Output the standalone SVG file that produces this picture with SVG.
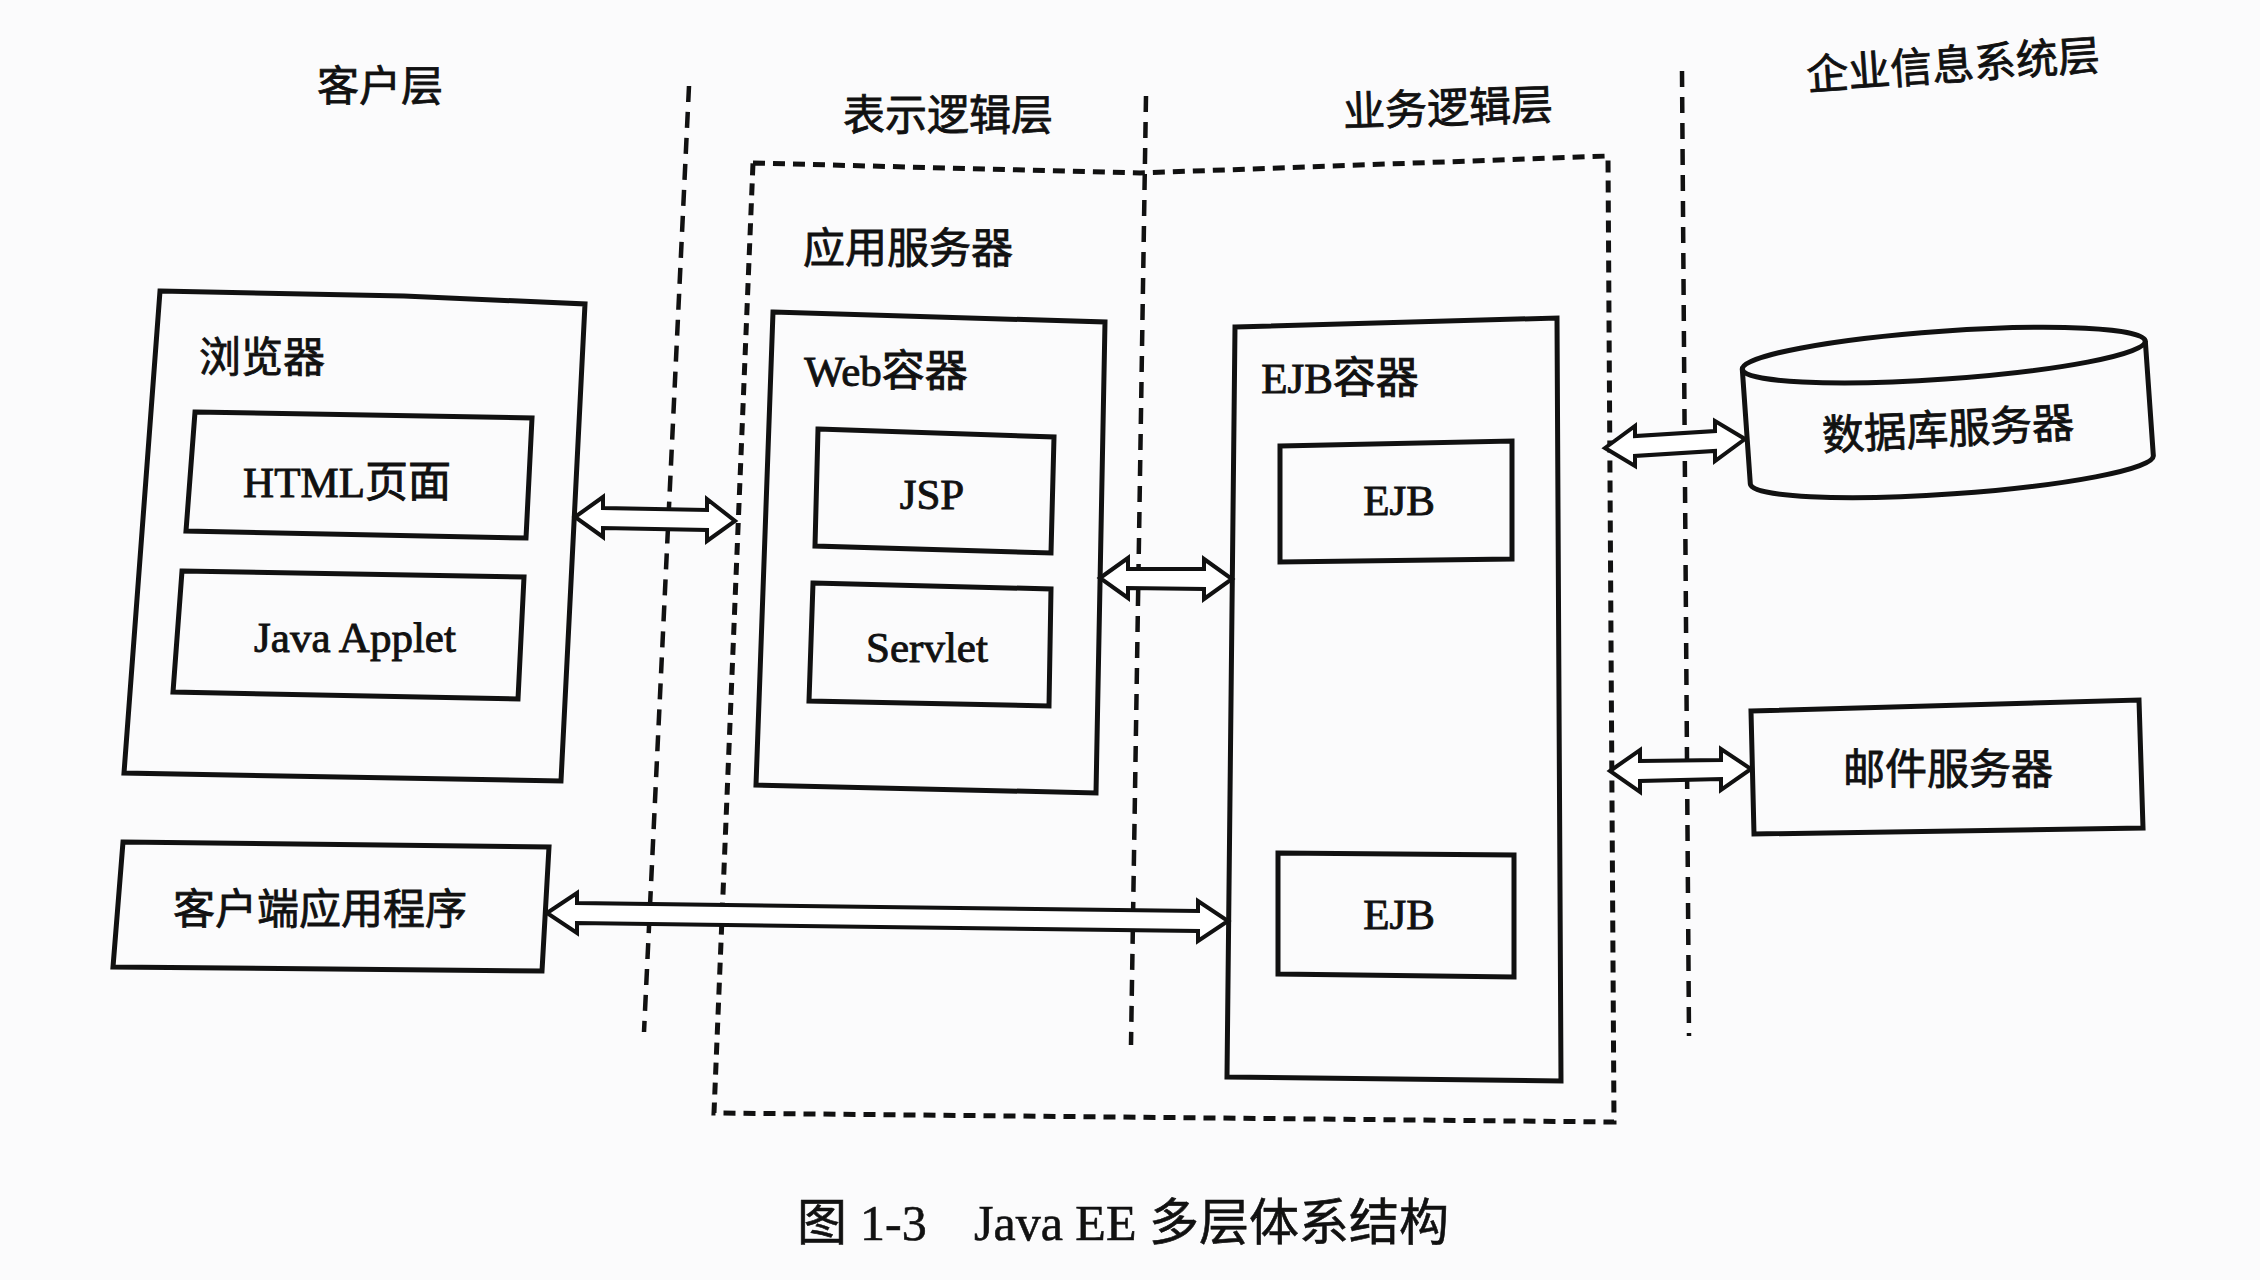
<svg xmlns="http://www.w3.org/2000/svg" width="2260" height="1280" viewBox="0 0 2260 1280">
<style>
.bg{fill:#fbfbfc}
.box{fill:none;stroke:#111;stroke-width:5;stroke-linejoin:miter}
.layer{fill:none;stroke:#111;stroke-width:4.5;stroke-dasharray:16 10}
.srv{fill:none;stroke:#111;stroke-width:5;stroke-dasharray:12 8}
.arr{fill:#fff;stroke:#111;stroke-width:4;stroke-linejoin:miter}
.cn{font-family:"Noto Sans CJK SC","Liberation Sans",sans-serif;font-size:42px;fill:#111;stroke:#111;stroke-width:0.8;text-anchor:middle}
.lt{font-family:"Liberation Serif","Noto Sans CJK SC",serif;font-size:43px;fill:#111;stroke:#111;stroke-width:0.9;text-anchor:middle}
.cap{font-family:"Liberation Serif","Noto Sans CJK SC",serif;font-size:50px;fill:#111;stroke:#111;stroke-width:0.6}
</style>
<rect class="bg" x="0" y="0" width="2260" height="1280"/>

<g id="layers">
<line class="layer" x1="689" y1="86" x2="644" y2="1032"/>
<line class="layer" x1="1146" y1="96" x2="1131" y2="1045"/>
<line class="layer" x1="1682" y1="71" x2="1689" y2="1036"/>
<text class="cn" x="380" y="101">客户层</text>
<text class="cn" x="948" y="130">表示逻辑层</text>
<text class="cn" x="1448" y="123" transform="rotate(-2 1448 108)">业务逻辑层</text>
<text class="cn" x="1953" y="80" transform="rotate(-4 1953 65)">企业信息系统层</text>
</g>

<g id="app-server">
<polygon class="srv" points="753,163 1140,173 1608,156 1614,1122 714,1113"/>
<text class="cn" x="908" y="263">应用服务器</text>
</g>

<g id="browser">
<polygon class="box" points="160,291 404,296 585,304 561,781 124,773"/>
<text class="cn" x="262" y="372">浏览器</text>
</g>
<g id="html">
<polygon class="box" points="195,412 532,418 526,538 186,531"/>
<text class="lt" x="347" y="497">HTML页面</text>
</g>
<g id="applet">
<polygon class="box" points="182,571 524,577 518,699 173,692"/>
<text class="lt" x="355" y="652">Java Applet</text>
</g>

<g id="web-container">
<polygon class="box" points="773,312 1105,322 1096,793 756,785"/>
<text class="lt" x="886" y="386">Web容器</text>
</g>
<g id="jsp">
<polygon class="box" points="818,429 1054,437 1051,553 815,546"/>
<text class="lt" x="932" y="509">JSP</text>
</g>
<g id="servlet">
<polygon class="box" points="813,583 1051,589 1049,706 809,701"/>
<text class="lt" x="927" y="662">Servlet</text>
</g>

<g id="ejb-container">
<polygon class="box" points="1235,327 1557,318 1561,1081 1227,1077"/>
<text class="lt" x="1340" y="393">EJB容器</text>
</g>
<g id="ejb1">
<polygon class="box" points="1280,446 1512,441 1512,559 1280,562"/>
<text class="lt" x="1399" y="515">EJB</text>
</g>
<g id="ejb2">
<polygon class="box" points="1278,853 1514,855 1514,977 1278,974"/>
<text class="lt" x="1399" y="929">EJB</text>
</g>

<g id="database">
<g transform="rotate(-4 1948 415)">
<path class="box" d="M1746,355 L1746,470 A202,24 0 0 0 2150,470 L2150,355" fill="#fff"/>
<ellipse class="box" cx="1948" cy="355" rx="202" ry="24"/>
</g>
<text class="cn" x="1948" y="444" transform="rotate(-3 1948 428)" font-size="44">数据库服务器</text>
</g>

<g id="mail">
<polygon class="box" points="1751,711 2139,700 2143,828 1754,834"/>
<text class="cn" x="1948" y="784" font-size="44">邮件服务器</text>
</g>

<g id="client-app">
<polygon class="box" points="123,842 549,847 542,971 113,967"/>
<text class="cn" x="320" y="924" font-size="44">客户端应用程序</text>
</g>

<g id="connectors">
<polygon class="arr" points="575,517 603,497 603,508 707,510 707,499 735,521 707,541 707,530 603,528 603,537"/>
<polygon class="arr" points="1100,578 1128,558 1128,569 1204,569 1204,559 1232,579 1204,599 1204,589 1128,588 1128,598"/>
<polygon class="arr" points="547,913 577,893 577,903 1198,911 1198,901 1228,921 1198,941 1198,931 577,923 577,933"/>
<polygon class="arr" points="1605,448 1635,426 1635,436 1715,431 1715,421 1745,439 1715,461 1715,451 1635,456 1635,466"/>
<polygon class="arr" points="1610,771 1640,750 1640,761 1721,760 1721,749 1751,769 1721,790 1721,779 1640,781 1640,792"/>
</g>

<text class="cap" y="1240"><tspan x="797">图</tspan><tspan x="860">1-3</tspan><tspan x="974">Java EE 多层体系结构</tspan></text>
</svg>
